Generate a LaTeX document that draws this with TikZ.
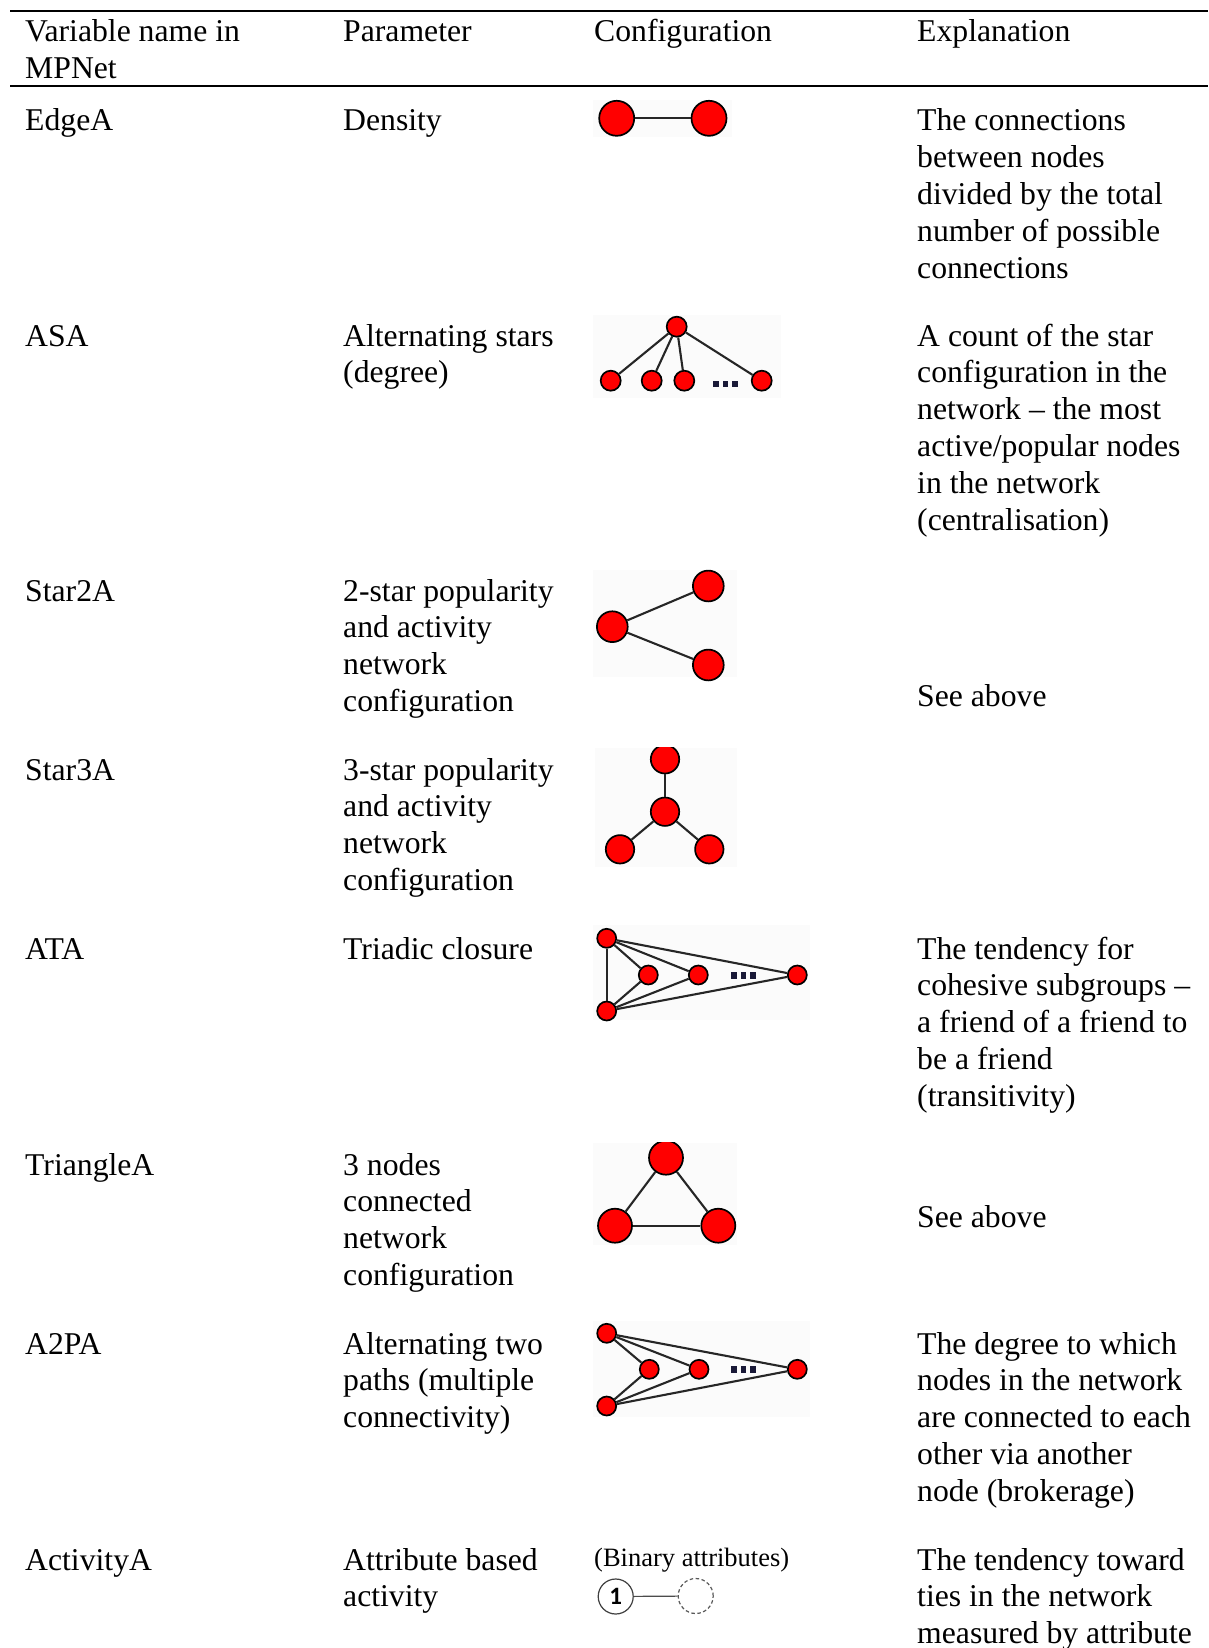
\documentclass[tikz,border=0pt]{standalone}
\usepackage{fontspec}
\setmainfont{Liberation Serif}
\newfontfamily\digitfont{Carlito}

% one table cell: name, x, first baseline, comma-separated lines
\newcommand\tabcell[4]{%
  \foreach \rowtext [count=\k] in {#4}{%
    \node[txt] (#1-\k) at (#2, {#3+36.8*(\k-1)}) {\rowtext};
  }}

\begin{document}
\begin{tikzpicture}[x=1pt,y=-1pt,
  txt/.style={anchor=base west,inner sep=0pt,font=\fontsize{31.7}{36.8}\selectfont},
  smalltxt/.style={anchor=base west,inner sep=0pt,font=\fontsize{26.5}{30}\selectfont},
  rule/.style={line width=2.6pt},
  iconbg/.style={fill=black!1.5},
  vtx/.style={circle,draw=black,line width=1.7pt,fill=red,inner sep=0pt,minimum size=#1},
  link/.style={line width=2.1pt,draw=black!85},
  dotmark/.style={fill={rgb,255:red,25;green,25;blue,55}},
  attrnode/.style={circle,draw=black!75,line width=1.2pt,inner sep=0pt,minimum size=35},
  attrlink/.style={draw=black!70,line width=1.2pt}]

\path[use as bounding box,fill=white] (0,0) rectangle (1208,1648);

% rules of the table
\draw[rule] (10,11) -- (1208,11);
\draw[rule] (10,86) -- (1208,86);

% header
\tabcell{hA}{25}{41.5}{Variable name in, MPNet}
\tabcell{hB}{343}{41.5}{Parameter}
\tabcell{hC}{594}{41.5}{Configuration}
\tabcell{hD}{917}{41.5}{Explanation}

% EdgeA
\tabcell{edgeA}{25}{131}{EdgeA}
\tabcell{edgeB}{343}{131}{Density}
\tabcell{edgeD}{917}{131}{The connections, between nodes, divided by the total, number of possible, connections}
\fill[iconbg] (593,100) rectangle (732,137);
\node[vtx=35] (e1) at (616.7,118.3) {};
\node[vtx=35] (e2) at (709,118.3) {};
\draw[link] (e1) -- (e2);

% ASA
\tabcell{asaA}{25}{346}{ASA}
\tabcell{asaB}{343}{346}{Alternating stars, (degree)}
\tabcell{asaD}{917}{346}{A count of the star, configuration in the, network – the most, {active/popular nodes}, in the network, (centralisation)}
\fill[iconbg] (593,315) rectangle (781,398);
\node[vtx=20] (s0) at (676.7,326.7) {};
\node[vtx=20] (s1) at (610.7,380.7) {};
\node[vtx=20] (s2) at (651.7,380.7) {};
\node[vtx=20] (s3) at (684.3,380.7) {};
\node[vtx=20] (s4) at (761.7,380.7) {};
\foreach \t in {s1,s2,s3,s4} \draw[link] (s0) -- (\t);
\foreach \dx in {716,725.5,735} \fill[dotmark] (\dx-2.6,380.5) rectangle (\dx+2.6,387);

% Star2A
\tabcell{stwA}{25}{601}{Star2A}
\tabcell{stwB}{343}{601}{2-star popularity, and activity, network, configuration}
\tabcell{stwD}{917}{706}{See above}
\fill[iconbg] (593,570) rectangle (737,677);
\node[vtx=30.8] (t0) at (612.3,626.7) {};
\node[vtx=30.8] (t1) at (708.3,586) {};
\node[vtx=30.8] (t2) at (708.3,665) {};
\draw[link] (t0) -- (t1);
\draw[link] (t0) -- (t2);

% Star3A
\tabcell{sthA}{25}{780}{Star3A}
\tabcell{sthB}{343}{780}{3-star popularity, and activity, network, configuration}
\begin{scope}
\clip (595,747.5) rectangle (740,870);
\fill[iconbg] (595,747.5) rectangle (737,867);
\node[vtx=28.4] (u0) at (665,759.3) {};
\node[vtx=28.4] (u1) at (665,811.7) {};
\node[vtx=28.4] (u2) at (620,849.3) {};
\node[vtx=28.4] (u3) at (709.3,849.3) {};
\draw[link] (u1) -- (u0);
\draw[link] (u1) -- (u2);
\draw[link] (u1) -- (u3);
\end{scope}

% ATA
\tabcell{ataA}{25}{959}{ATA}
\tabcell{ataB}{343}{959}{Triadic closure}
\tabcell{ataD}{917}{959}{The tendency for, cohesive subgroups –, a friend of a friend to, be a friend, (transitivity)}
\fill[iconbg] (593,925) rectangle (810,1020);
\node[vtx=19] (a1) at (606.7,938.3) {};
\node[vtx=19] (a2) at (606.7,1011) {};
\node[vtx=19] (a3) at (648.3,975) {};
\node[vtx=19] (a4) at (698.3,975) {};
\node[vtx=19] (a5) at (797.3,975) {};
\draw[link] (a1) -- (a2);
\foreach \t in {a3,a4,a5} {\draw[link] (a1) -- (\t); \draw[link] (a2) -- (\t);}
\foreach \dx in {734,743.5,753} \fill[dotmark] (\dx-2.6,972) rectangle (\dx+2.6,978.5);

% TriangleA
\tabcell{triA}{25}{1175}{TriangleA}
\tabcell{triB}{343}{1175}{3 nodes, connected, network, configuration}
\tabcell{triD}{917}{1227}{See above}
\begin{scope}
\clip (593,1142.5) rectangle (740,1250);
\fill[iconbg] (593,1142.5) rectangle (737,1245);
\node[vtx=34] (r0) at (666,1157.7) {};
\node[vtx=34] (r1) at (615,1225.7) {};
\node[vtx=34] (r2) at (718.3,1225.7) {};
\draw[link] (r0) -- (r1);
\draw[link] (r0) -- (r2);
\draw[link] (r1) -- (r2);
\end{scope}

% A2PA
\tabcell{tpA}{25}{1354}{A2PA}
\tabcell{tpB}{343}{1354}{Alternating two, paths (multiple, connectivity)}
\tabcell{tpD}{917}{1354}{The degree to which, nodes in the network, are connected to each, other via another, node (brokerage)}
\fill[iconbg] (593,1321) rectangle (810,1417);
\node[vtx=19] (p1) at (606.7,1333.3) {};
\node[vtx=19] (p2) at (606.7,1406) {};
\node[vtx=19] (p3) at (649.3,1369.3) {};
\node[vtx=19] (p4) at (699,1369.3) {};
\node[vtx=19] (p5) at (797.3,1369.3) {};
\foreach \t in {p3,p4,p5} {\draw[link] (p1) -- (\t); \draw[link] (p2) -- (\t);}
\foreach \dx in {734,743.5,753} \fill[dotmark] (\dx-2.6,1366.3) rectangle (\dx+2.6,1372.8);

% ActivityA
\tabcell{actA}{25}{1570}{ActivityA}
\tabcell{actB}{343}{1570}{Attribute based, activity}
\tabcell{actD}{917}{1570}{The tendency toward, ties in the network, measured by attribute}
\node[smalltxt] (binlbl) at (594,1566) {(Binary attributes)};
\node[attrnode,font={\digitfont\bfseries\fontsize{25}{25}\selectfont}] (one) at (615.7,1596.5) {1};
\node[attrnode,draw=black!65,dash pattern=on 3.5pt off 2.5pt] (other) at (695.7,1596) {};
\draw[attrlink] (one) -- (other);

\end{tikzpicture}
\end{document}
